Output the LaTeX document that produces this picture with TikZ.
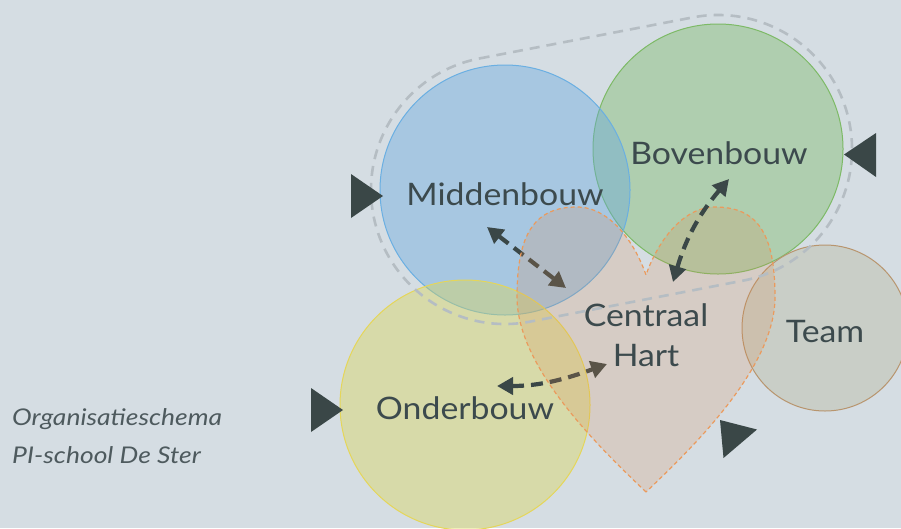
\documentclass[tikz,border=0pt]{standalone}
\usepackage{fontspec}
\setmainfont{Lato}
\newfontfamily\lblfont{Lato}[FakeStretch=1.09]
\newfontfamily\captfont{Lato}[FakeStretch=1.15]
\usetikzlibrary{arrows.meta,calc}
\definecolor{bg}{HTML}{D5DDE3}
\definecolor{txt}{HTML}{3C4A4D}
\definecolor{capt}{HTML}{4E5A5E}
\definecolor{dark}{HTML}{3A4747}
\definecolor{blueC}{HTML}{64A7DF}
\definecolor{blueS}{HTML}{6AAFE2}
\definecolor{greenC}{HTML}{76B862}
\definecolor{greenS}{HTML}{7DBA66}
\definecolor{yellowC}{HTML}{DCD653}
\definecolor{yellowS}{HTML}{E5D659}
\definecolor{teamC}{HTML}{B7B89E}
\definecolor{teamS}{HTML}{B8956E}
\definecolor{heartC}{HTML}{DA894E}
\definecolor{heartS}{HTML}{EB9A5C}
\definecolor{hullC}{HTML}{B5BDC3}
\tikzset{
  bubble/.style={circle, draw, line width=1pt, fill opacity=0.4, inner sep=0pt},
  lbl/.style={anchor=base, text=txt, inner sep=0pt, font=\lblfont\fontsize{31}{37}\selectfont},
  capt/.style={anchor=base west, text=capt, inner sep=0pt, font=\captfont\fontsize{23}{27}\selectfont\itshape},
  bidir/.style={{Triangle[length=16pt,width=17pt]}-{Triangle[length=16pt,width=17pt]},
    line width=4.2pt, dash pattern=on 12pt off 7pt, draw=dark},
  marker/.style={fill=dark},
  heartline/.style={draw=heartS, line width=1.2pt, dash pattern=on 4pt off 3pt, fill=heartC, fill opacity=0.2},
  hullline/.style={draw=hullC, line width=2.6pt, dash pattern=on 10pt off 7pt}
}
\begin{document}
\begin{tikzpicture}[x=1pt,y=1pt]
\useasboundingbox (0,0) rectangle (901,-528);
\fill[bg] (0,0) rectangle (901,-528);

% circles
\node[bubble, draw=greenS, fill=greenC, minimum size=250pt] (boven) at (718,-149) {};
\node[bubble, draw=blueS, fill=blueC, minimum size=250pt] (midden) at (505,-190) {};
\node[bubble, draw=yellowS, fill=yellowC, minimum size=250pt] (onder) at (465,-405) {};
\node[bubble, draw=teamS, fill=teamC, minimum size=166pt] (team) at (825,-328) {};

% arrow end points
\coordinate (a1s) at (487,-227);
\coordinate (a1e) at (566,-288);
\coordinate (a2s) at (497,-386);
\coordinate (a2e) at (607,-364);
\coordinate (a3s) at (729,-179);
\coordinate (a3e) at (673,-282);

\draw[bidir] (a1s) -- (a1e);
\draw[bidir] (a2s) to[out=0,in=200] (a2e);

% heart
\path[heartline] (646,-492) .. controls (600,-448) and (517,-368) .. (517,-297)
  .. controls (517,-233) and (535,-207) .. (577,-207)
  .. controls (610,-207) and (635,-243) .. (646,-275)
  .. controls (657,-243) and (682,-207) .. (715,-207)
  .. controls (757,-207) and (775,-233) .. (775,-297)
  .. controls (775,-368) and (692,-448) .. (646,-492) -- cycle;

% hull around Middenbouw and Bovenbouw
\coordinate (hA) at (505,-190);
\coordinate (hB) at (718,-149);
\draw[hullline] ($(hA)+(100.9:134)$) -- ($(hB)+(100.9:134)$)
  arc[start angle=100.9, end angle=-79.1, radius=134]
  -- ($(hA)+(-79.1:134)$)
  arc[start angle=-79.1, end angle=-259.1, radius=134] -- cycle;

\draw[bidir] (a3s) to[bend right=12] (a3e);

% labels
\node[lbl] (tmidden) at (505,-205) {Middenbouw};
\node[lbl] (tboven) at (719,-164.3) {Bovenbouw};
\node[lbl] (tcentraal) at (646,-326.6) {Centraal};
\node[lbl] (thart) at (646,-366) {Hart};
\node[lbl] (tteam) at (825,-342.8) {Team};
\node[lbl] (tonder) at (465,-419) {Onderbouw};

\node[capt] (c1) at (12,-425) {Organisatieschema};
\node[capt] (c2) at (12,-463) {PI-school De Ster};

% markers
\fill[marker] (351,-174) -- (351,-218) -- (383,-196) -- cycle;
\fill[marker] (876,-133) -- (876,-177) -- (844,-154.5) -- cycle;
\fill[marker] (311,-388) -- (311,-432) -- (343,-410) -- cycle;
\fill[marker] (720,-420) -- (723.5,-458) -- (757,-429.5) -- cycle;
\end{tikzpicture}
\end{document}
